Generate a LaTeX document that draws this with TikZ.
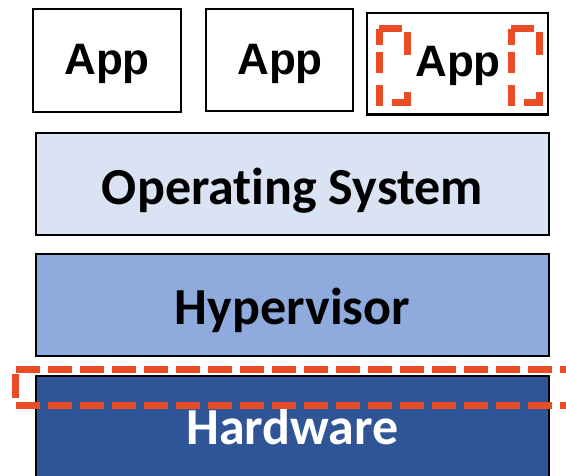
\documentclass[tikz,border=0pt]{standalone}
\usepackage{fontspec}
\newfontfamily\appfont{Liberation Sans}
\newfontfamily\layerfont{Carlito}[RawFeature={-liga;-dlig}]

\definecolor{osfill}{HTML}{DAE3F3}
\definecolor{hypfill}{HTML}{8FAADC}
\definecolor{hwfill}{HTML}{2F5597}
\definecolor{markred}{RGB}{234,76,38}

\begin{document}
\begin{tikzpicture}[x=1pt,y=-1pt,
  appbox/.style={draw=black,line width=2.2pt,fill=white,inner sep=0pt},
  layerbox/.style={draw=black,line width=2.2pt,inner sep=0pt,
    minimum width=513pt,minimum height=102pt},
  apptext/.style={anchor=base,inner sep=0pt,
    font=\appfont\bfseries\fontsize{44}{50}\selectfont},
  layertext/.style={anchor=base,inner sep=0pt,
    font=\layerfont\bfseries\fontsize{52}{60}\selectfont},
  redmark/.style={draw=markred,line width=7pt,dash pattern=on 24pt off 8pt},
  bracketmark/.style={draw=markred,line width=7pt,
    dash pattern=on 23pt off 8pt on 23pt off 37pt on 26pt off 9pt
      on 22pt off 12pt on 21pt off 7pt on 16pt off 0pt}]

\useasboundingbox (0,0) rectangle (566,476);
\clip (0,0) rectangle (566,476);

% Applications
\node[appbox,minimum width=148pt,minimum height=103pt]
  (app1) at (107,60.5) {};
\node[appbox,minimum width=147pt,minimum height=102pt]
  (app2) at (279.5,60) {};
\node[appbox,minimum width=181pt,minimum height=101.5pt]
  (app3) at (457.5,63.75) {};

\node[apptext] (app1-txt) at (107,75) {App};
\node[apptext] (app2-txt) at (280,75) {App};
\node[apptext] (app3-txt) at (458,77) {App};

% Couches
\node[layerbox,fill=osfill]
  (os) at (292.5,184) {};
\node[layerbox,fill=hypfill]
  (hyp) at (292.5,305.25) {};
\node[layerbox,fill=hwfill,minimum height=130pt]
  (hw) at (292.5,441) {};

\node[layertext] (os-txt) at (292.5,205) {Operating System};
\node[layertext] (hyp-txt) at (292.5,325) {Hypervisor};
\node[layertext,text=white] (hw-txt) at (292.5,445) {Hardware};

% Marques rouges
\draw[bracketmark]
(379,29)
-- (407,29)
-- (407,103)
-- (379,103)
-- cycle;

\draw[bracketmark]
(511,29)
-- (539,29)
-- (539,103)
-- (511,103)
-- cycle;

\draw[redmark]
(15.5,369.5)
--
(600,369.5);

\draw[redmark]
(15.5,405.5)
--
(600,405.5);

\draw[redmark,dash phase=27.5pt]
(15.5,369.5)
--
(15.5,405.5);

\end{tikzpicture}
\end{document}
